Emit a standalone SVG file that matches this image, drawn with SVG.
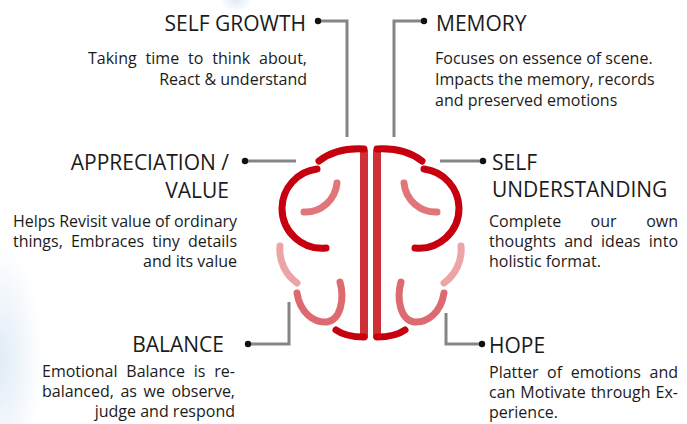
<svg xmlns="http://www.w3.org/2000/svg" width="687" height="424" viewBox="0 0 687 424">
  <defs>
    <radialGradient id="hazeGrad" cx="0.5" cy="0.5" r="0.5">
      <stop offset="0" stop-color="#dce9f5" stop-opacity="0.9"/>
      <stop offset="1" stop-color="#dce9f5" stop-opacity="0"/>
    </radialGradient>
    <style>
      .title { font-family: "Open Sans", "Liberation Sans", sans-serif; font-size: 21px; fill: #1b1b1b; }
      .body { font-family: "Open Sans", "Liberation Sans", sans-serif; font-size: 16px; fill: #1b1b1b; }
      .end { text-anchor: end; }
      .link { fill: none; stroke: #858585; stroke-width: 3; }
      .dot { fill: #111111; }
      .lobe { fill: none; stroke-width: 7; stroke-linecap: round; }
      .dark { stroke: #c6000f; }
      .mid { stroke: #e0757a; }
      .low { stroke: #dc6a70; }
      .pale { stroke: #eda4a7; }
      .spine { fill: #cf2f37; }
    </style>
  </defs>

  <rect width="687" height="424" fill="#ffffff"/>
  <!-- soft background tint -->
  <ellipse cx="0" cy="360" rx="42" ry="115" fill="url(#hazeGrad)"/>
  <ellipse cx="236" cy="0" rx="16" ry="12" fill="url(#hazeGrad)"/>

  <!-- brain icon: left half drawn, right half mirrored about x=370.5 -->
  <g id="brain">
    <g id="brain-left">
      <rect class="spine" x="360" y="149" width="8" height="190" rx="2"/>
      <path class="lobe dark" d="M319,161 C332,151 346,148 364,149"/>
      <path class="lobe dark" d="M317,169 A40,40 0 0 0 282,208 A40,40 0 0 0 326,248"/>
      <path class="lobe mid" d="M337,183 A32,32 0 0 1 304,212"/>
      <path class="lobe pale" d="M280,246 A41,41 0 0 0 297,283"/>
      <path class="lobe low" d="M297,293 C300,312 313,323 327,322 C340,320 345,300 340,282"/>
      <path class="lobe dark" d="M336,330 C343,335 352,337 364,337"/>
    </g>
    <use href="#brain-left" transform="translate(741 0) scale(-1 1)"/>
  </g>

  <!-- connectors -->
  <g id="connectors">
    <path class="link" d="M318,21 H347 V137"/>
    <path class="link" d="M424,21 H394 V137"/>
    <path class="link" d="M245,161 H296"/>
    <path class="link" d="M440,161 H483"/>
    <path class="link" d="M248,344 H289 V302"/>
    <path class="link" d="M446,313 V344 H482"/>
    <circle class="dot" cx="318" cy="21" r="3.2"/>
    <circle class="dot" cx="424" cy="21" r="3.2"/>
    <circle class="dot" cx="245" cy="161" r="3.2"/>
    <circle class="dot" cx="483" cy="161" r="3.2"/>
    <circle class="dot" cx="248" cy="344" r="3.2"/>
    <circle class="dot" cx="482" cy="344" r="3.2"/>
  </g>

  <!-- justified lines: word-spacing plus textLength to fill the column -->
  <g id="self-growth">
    <text class="title end" x="306" y="31">SELF GROWTH</text>
    <text class="body" x="88" y="64" word-spacing="4.8" textLength="219" lengthAdjust="spacing">Taking time to think about,</text>
    <text class="body end" x="307" y="85">React &amp; understand</text>
  </g>

  <g id="memory">
    <text class="title" x="436" y="31">MEMORY</text>
    <text class="body" x="435" y="64">Focuses on essence of scene.</text>
    <text class="body" x="435" y="85">Impacts the memory, records</text>
    <text class="body" x="435" y="106">and preserved emotions</text>
  </g>

  <g id="appreciation">
    <text class="title end" x="229" y="170">APPRECIATION /</text>
    <text class="title end" x="229" y="198">VALUE</text>
    <text class="body" x="13" y="227" textLength="224" lengthAdjust="spacing">Helps Revisit value of ordinary</text>
    <text class="body" x="13" y="247" word-spacing="4" textLength="224" lengthAdjust="spacing">things, Embraces tiny details</text>
    <text class="body end" x="237" y="267">and its value</text>
  </g>

  <g id="self-understanding">
    <text class="title" x="492" y="170">SELF</text>
    <text class="title" x="492" y="197">UNDERSTANDING</text>
    <text class="body" x="489" y="227" word-spacing="25.3" textLength="189" lengthAdjust="spacing">Complete our own</text>
    <text class="body" x="489" y="247" word-spacing="4.2" textLength="189" lengthAdjust="spacing">thoughts and ideas into</text>
    <text class="body" x="489" y="267">holistic format.</text>
  </g>

  <g id="balance">
    <text class="title end" x="224" y="352">BALANCE</text>
    <text class="body" x="42" y="377" word-spacing="4.7" textLength="193" lengthAdjust="spacing">Emotional Balance is re-</text>
    <text class="body" x="42" y="397" word-spacing="2.4" textLength="193" lengthAdjust="spacing">balanced, as we observe,</text>
    <text class="body end" x="235" y="417">judge and respond</text>
  </g>

  <g id="hope">
    <text class="title" x="489" y="353">HOPE</text>
    <text class="body" x="489" y="378" word-spacing="4.3" textLength="189" lengthAdjust="spacing">Platter of emotions and</text>
    <text class="body" x="489" y="398" word-spacing="0.8" textLength="189" lengthAdjust="spacing">can Motivate through Ex-</text>
    <text class="body" x="489" y="418">perience.</text>
  </g>
</svg>
